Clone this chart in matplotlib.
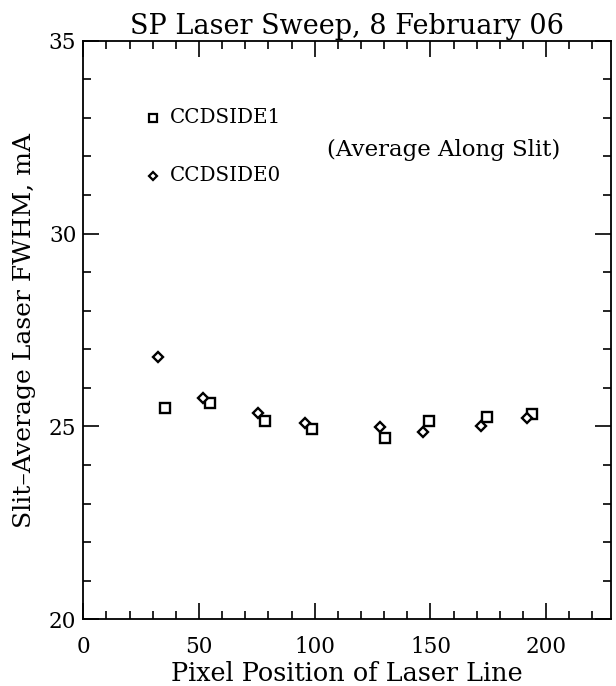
import matplotlib
matplotlib.use("Agg")
import matplotlib.pyplot as plt
from matplotlib.ticker import MultipleLocator

plt.rcParams['font.family'] = ['DejaVu Serif']

# CCDSIDE1 (squares)
x_side1 = [35.1, 54.7, 78.6, 98.6, 130.4, 149.3, 174.3, 193.9]
y_side1 = [25.48, 25.62, 25.15, 24.93, 24.71, 25.13, 25.24, 25.33]

# CCDSIDE0 (diamonds)
x_side0 = [32.3, 51.9, 75.7, 95.7, 128.0, 146.7, 171.9, 191.6]
y_side0 = [26.80, 25.75, 25.36, 25.08, 24.99, 24.85, 25.01, 25.21]

fig = plt.figure(figsize=(6.16, 6.86), dpi=100)
ax = fig.add_axes([0.1352, 0.0972, 0.8567, 0.8434])

ax.plot(x_side1, y_side1, 's', ms=6.5, mfc='white', mec='black', mew=1.7, ls='none')
ax.plot(x_side0, y_side0, 'D', ms=4.8, mfc='white', mec='black', mew=1.7, ls='none')

# legend drawn by hand, PGPLOT style
ax.plot([30.2], [33.01], 's', ms=5.5, mfc='white', mec='black', mew=1.6)
ax.plot([30.2], [31.5], 'D', ms=4.2, mfc='white', mec='black', mew=1.6)
ax.text(37.4, 33.01, 'CCDSIDE1', fontsize=14.3, va='center', ha='left')
ax.text(37.4, 31.5, 'CCDSIDE0', fontsize=14.3, va='center', ha='left')
ax.text(105.5, 32.16, '(Average Along Slit)', fontsize=16.5, va='center', ha='left')

ax.set_xlim(0, 228)
ax.set_ylim(20, 35)
ax.xaxis.set_major_locator(MultipleLocator(50))
ax.xaxis.set_minor_locator(MultipleLocator(10))
ax.yaxis.set_major_locator(MultipleLocator(5))
ax.yaxis.set_minor_locator(MultipleLocator(1))
ax.tick_params(which='both', direction='in', top=True, right=True, width=1.2,
               labelsize=15.5, colors='black')
ax.tick_params(which='major', length=11.5)
ax.tick_params(which='minor', length=5.8)
ax.tick_params(axis='x', which='major', pad=12)
ax.tick_params(axis='y', which='major', pad=5)
for s in ax.spines.values():
    s.set_linewidth(1.3)

ax.set_title('SP Laser Sweep, 8 February 06', fontsize=19.5, pad=5)
ax.set_xlabel('Pixel Position of Laser Line', fontsize=18.4, labelpad=2)
ax.set_ylabel('Slit\u2013Average Laser FWHM, mA', fontsize=18, labelpad=9)

fig.savefig('out.png', dpi=100)
